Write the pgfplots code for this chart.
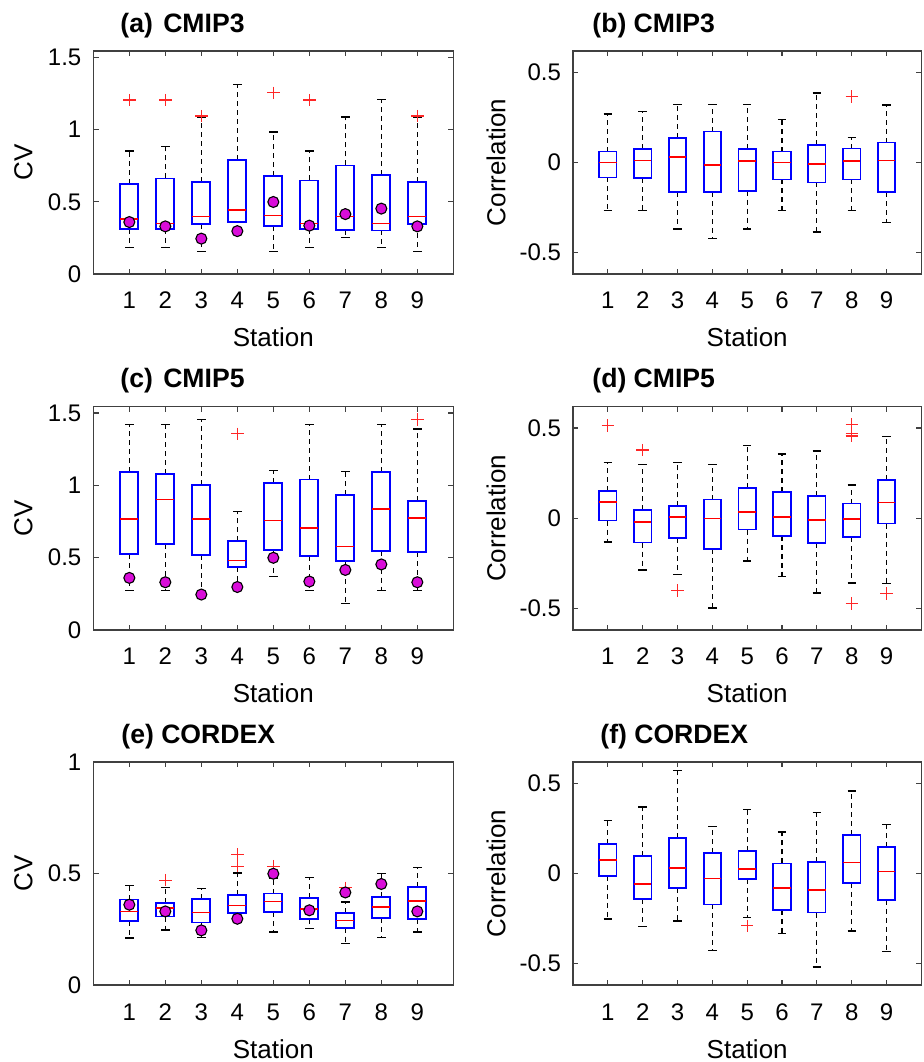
\documentclass[border=0pt]{standalone}
\usepackage{pgfplots}
\pgfplotsset{compat=1.18}
\usepgfplotslibrary{statistics}
\usepackage{fontspec}
\setmainfont{Liberation Sans}

\definecolor{boxblue}{rgb}{0,0,1}
\definecolor{medred}{rgb}{1,0,0}
\definecolor{outred}{rgb}{1,0.15,0.15}
\definecolor{obsmag}{rgb}{0.85,0.05,0.85}
\definecolor{axgray}{rgb}{0.25,0.25,0.25}

% box look: blue box, red median, dashed black whiskers with solid caps
\pgfkeys{/pgfplots/boxplot/mine/.style={
    draw direction=y,
    box extend=0.5,
    whisker extend=0.24,
    every box/.style={draw=boxblue, line width=0.85pt},
    every median/.style={draw=medred, line width=0.8pt},
    draw/lower whisker/.code={
      \draw[black, line width=0.6pt, dash pattern=on 2.5pt off 2pt]
        (boxplot whisker cs:\pgfplotsboxplotvalue{lower quartile},0.5) --
        (boxplot whisker cs:\pgfplotsboxplotvalue{lower whisker},0.5);
      \draw[black, line width=0.7pt]
        (boxplot whisker cs:\pgfplotsboxplotvalue{lower whisker},0) --
        (boxplot whisker cs:\pgfplotsboxplotvalue{lower whisker},1);
    },
    draw/upper whisker/.code={
      \draw[black, line width=0.6pt, dash pattern=on 2.5pt off 2pt]
        (boxplot whisker cs:\pgfplotsboxplotvalue{upper quartile},0.5) --
        (boxplot whisker cs:\pgfplotsboxplotvalue{upper whisker},0.5);
      \draw[black, line width=0.7pt]
        (boxplot whisker cs:\pgfplotsboxplotvalue{upper whisker},0) --
        (boxplot whisker cs:\pgfplotsboxplotvalue{upper whisker},1);
    },
}}

\pgfplotsset{
  panel/.style={
    scale only axis,
    height=111.5pt,
    xmin=0, xmax=10,
    xtick={1,...,9},
    clip=false,
    axis line style={axgray, line width=0.6pt},
    major tick style={axgray, line width=0.6pt},
    major tick length=2.6pt,
    tick align=inside,
    /pgf/number format/assume math mode=true,
    tick label style={font=\fontsize{12}{14}\selectfont},
    xticklabel style={anchor=base, yshift=-17.5pt},
    yticklabel style={anchor=east, inner sep=0pt, xshift=-5.8pt},
    xlabel={Station},
    every axis x label/.style={at={(rel axis cs:0.5,0)}, anchor=base,
      yshift=-36.5pt, font=\fontsize{13}{15}\selectfont},
  },
  cvpanel/.style={panel, width=180pt,
    every axis y label/.style={at={(rel axis cs:0,0.5)}, xshift=-35pt,
      rotate=90, anchor=center, font=\fontsize{13}{15}\selectfont},
    ylabel={CV}},
  corpanel/.style={panel, width=174.2pt,
    ymin=-0.62, ymax=0.62,
    ytick={-0.5,0,0.5}, yticklabels={-0.5,0,0.5},
    every axis y label/.style={at={(rel axis cs:0,0.5)}, xshift=-38.5pt,
      rotate=90, anchor=center, font=\fontsize{13}{15}\selectfont},
    ylabel={Correlation}},
  mbox/.style={
    mark=+, mark size=3.1pt,
    mark options={draw=outred, line width=0.6pt},
  },
  obs/.style={only marks, mark=*, mark size=2.75pt,
    mark options={fill=obsmag, draw=black, line width=0.55pt}},
}

% one box: station, lower whisker, lower quartile, median, upper quartile,
% upper whisker, outliers
\newcommand\bx[7]{%
  \addplot[mbox, boxplot prepared={mine, draw position=#1,
    lower whisker=#2, lower quartile=#3, median=#4,
    upper quartile=#5, upper whisker=#6}] coordinates {#7};}

\newcommand\paneltitle[3]{%
  \node[anchor=base west, inner sep=0pt,
    font=\bfseries\fontsize{13.3}{16}\selectfont] at (#1,#2) {#3};}

\begin{document}
\begin{tikzpicture}
\useasboundingbox (0,0) rectangle (462pt,531pt);

% ---------------- (a) CV, CMIP3
\begin{axis}[cvpanel, at={(46.67pt,394pt)}, anchor=south west,
  ymin=0, ymax=1.545, ytick={0,0.5,1,1.5}, yticklabels={0,0.5,1,1.5}]
\bx{1}{0.185}{0.314}{0.383}{0.625}{0.852}{(1,1.205)}
\bx{2}{0.185}{0.314}{0.351}{0.662}{0.882}{(2,1.205)}
\bx{3}{0.157}{0.344}{0.397}{0.639}{1.085}{(3,1.094)}
\bx{4}{0.358}{0.358}{0.443}{0.792}{1.313}{}
\bx{5}{0.157}{0.332}{0.406}{0.678}{0.985}{(5,1.255)}
\bx{6}{0.185}{0.314}{0.351}{0.648}{0.852}{(6,1.205)}
\bx{7}{0.254}{0.305}{0.397}{0.752}{1.087}{}
\bx{8}{0.185}{0.302}{0.351}{0.685}{1.207}{}
\bx{9}{0.157}{0.344}{0.397}{0.639}{1.085}{(9,1.094)}
\addplot[obs] coordinates {(1,0.36) (2,0.33) (3,0.245) (4,0.297) (5,0.499)
  (6,0.335) (7,0.415) (8,0.453) (9,0.33)};
\end{axis}

% ---------------- (b) correlation, CMIP3
\begin{axis}[corpanel, at={(286.5pt,394pt)}, anchor=south west]
\bx{1}{-0.268}{-0.083}{0.000}{0.061}{0.269}{}
\bx{2}{-0.268}{-0.087}{0.011}{0.076}{0.282}{}
\bx{3}{-0.369}{-0.166}{0.031}{0.138}{0.321}{}
\bx{4}{-0.421}{-0.166}{-0.015}{0.172}{0.321}{}
\bx{5}{-0.369}{-0.157}{0.009}{0.074}{0.321}{}
\bx{6}{-0.268}{-0.094}{0.000}{0.061}{0.240}{}
\bx{7}{-0.387}{-0.111}{-0.009}{0.096}{0.386}{}
\bx{8}{-0.268}{-0.094}{0.007}{0.077}{0.140}{(8,0.367)}
\bx{9}{-0.332}{-0.166}{0.011}{0.111}{0.319}{}
\end{axis}

% ---------------- (c) CV, CMIP5
\begin{axis}[cvpanel, at={(46.67pt,216pt)}, anchor=south west,
  height=111.8pt,
  ymin=0, ymax=1.545, ytick={0,0.5,1,1.5}, yticklabels={0,0.5,1,1.5}]
\bx{1}{0.274}{0.523}{0.767}{1.090}{1.422}{}
\bx{2}{0.274}{0.594}{0.901}{1.078}{1.422}{}
\bx{3}{0.250}{0.518}{0.765}{1.002}{1.454}{}
\bx{4}{0.300}{0.435}{0.479}{0.613}{0.818}{(4,1.355)}
\bx{5}{0.369}{0.553}{0.756}{1.016}{1.101}{}
\bx{6}{0.274}{0.512}{0.705}{1.039}{1.422}{}
\bx{7}{0.184}{0.477}{0.578}{0.933}{1.094}{}
\bx{8}{0.274}{0.548}{0.836}{1.090}{1.422}{}
\bx{9}{0.274}{0.537}{0.772}{0.889}{1.389}{(9,1.454)}
\addplot[obs] coordinates {(1,0.36) (2,0.33) (3,0.245) (4,0.297) (5,0.499)
  (6,0.335) (7,0.415) (8,0.453) (9,0.33)};
\end{axis}

% ---------------- (d) correlation, CMIP5
\begin{axis}[corpanel, at={(286.5pt,216pt)}, anchor=south west, height=111.8pt]
\bx{1}{-0.131}{-0.013}{0.089}{0.151}{0.310}{(1,0.515)}
\bx{2}{-0.288}{-0.135}{-0.022}{0.046}{0.299}{(2,0.378)}
\bx{3}{-0.312}{-0.109}{0.007}{0.066}{0.308}{(3,-0.402)}
\bx{4}{-0.498}{-0.172}{-0.002}{0.103}{0.299}{}
\bx{5}{-0.238}{-0.063}{0.035}{0.166}{0.402}{}
\bx{6}{-0.323}{-0.098}{0.007}{0.146}{0.356}{}
\bx{7}{-0.415}{-0.138}{-0.011}{0.122}{0.373}{}
\bx{8}{-0.360}{-0.105}{-0.004}{0.081}{0.183}{(8,0.520) (8,0.469) (8,0.456) (8,-0.472)}
\bx{9}{-0.362}{-0.030}{0.087}{0.212}{0.452}{(9,-0.417)}
\end{axis}

% ---------------- (e) CV, CORDEX
\begin{axis}[cvpanel, at={(46.67pt,38.5pt)}, anchor=south west,
  ymin=0, ymax=1, ytick={0,0.5,1}, yticklabels={0,0.5,1}]
\bx{1}{0.211}{0.286}{0.329}{0.383}{0.445}{}
\bx{2}{0.246}{0.307}{0.346}{0.368}{0.436}{(2,0.470)}
\bx{3}{0.213}{0.280}{0.326}{0.386}{0.434}{}
\bx{4}{0.300}{0.323}{0.356}{0.403}{0.503}{(4,0.533) (4,0.585)}
\bx{5}{0.237}{0.326}{0.374}{0.410}{0.480}{(5,0.533)}
\bx{6}{0.253}{0.295}{0.341}{0.391}{0.481}{}
\bx{7}{0.187}{0.257}{0.289}{0.323}{0.373}{(7,0.436)}
\bx{8}{0.214}{0.299}{0.350}{0.395}{0.500}{}
\bx{9}{0.238}{0.295}{0.376}{0.440}{0.528}{}
\addplot[obs] coordinates {(1,0.36) (2,0.33) (3,0.245) (4,0.297) (5,0.499)
  (6,0.335) (7,0.415) (8,0.453) (9,0.33)};
\end{axis}

% ---------------- (f) correlation, CORDEX
\begin{axis}[corpanel, at={(286.5pt,38.5pt)}, anchor=south west]
\bx{1}{-0.252}{-0.013}{0.076}{0.165}{0.294}{}
\bx{2}{-0.294}{-0.143}{-0.057}{0.096}{0.370}{}
\bx{3}{-0.265}{-0.081}{0.031}{0.196}{0.574}{}
\bx{4}{-0.428}{-0.172}{-0.028}{0.115}{0.263}{}
\bx{5}{-0.244}{-0.030}{0.026}{0.124}{0.357}{(5,-0.291)}
\bx{6}{-0.333}{-0.202}{-0.080}{0.056}{0.231}{}
\bx{7}{-0.519}{-0.217}{-0.093}{0.065}{0.339}{}
\bx{8}{-0.320}{-0.052}{0.061}{0.215}{0.459}{}
\bx{9}{-0.433}{-0.146}{0.011}{0.146}{0.274}{}
\end{axis}

% panel titles
\paneltitle{60pt}{514.8pt}{(a)\hspace{1.5pt} CMIP3}
\paneltitle{296pt}{514.8pt}{(b) CMIP3}
\paneltitle{60pt}{337.3pt}{(c)\hspace{1.5pt} CMIP5}
\paneltitle{296pt}{337.3pt}{(d) CMIP5}
\paneltitle{60.5pt}{159.2pt}{(e) CORDEX}
\paneltitle{300pt}{159.2pt}{(f) CORDEX}
\end{tikzpicture}
\end{document}
